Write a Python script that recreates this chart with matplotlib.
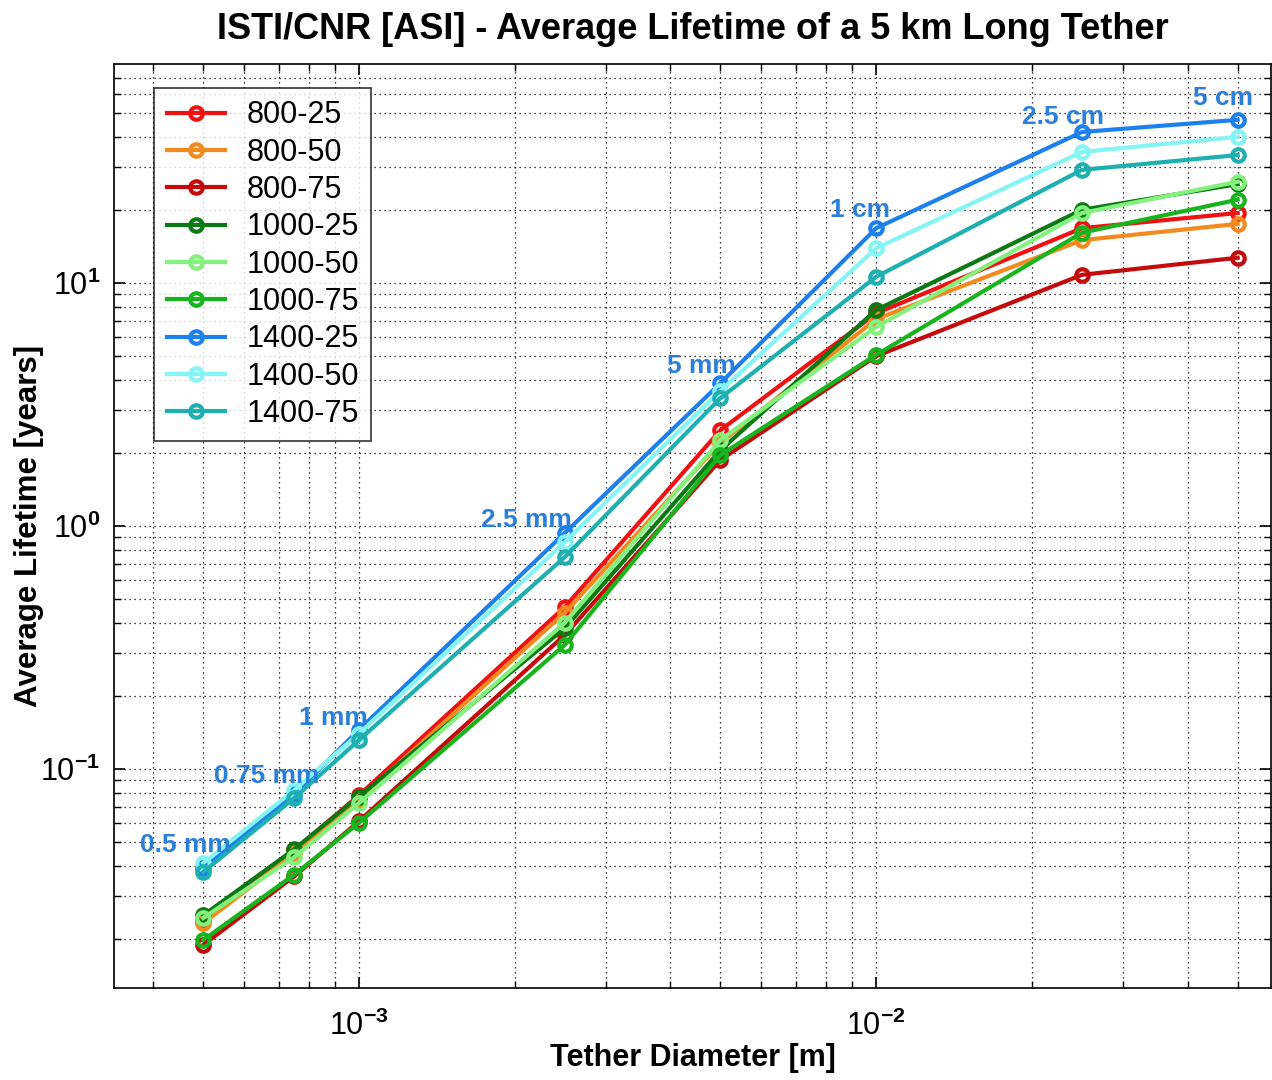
import matplotlib
matplotlib.use("Agg")
import matplotlib.pyplot as plt
from matplotlib.ticker import LogLocator, NullFormatter, FuncFormatter
import numpy as np

plt.rcParams['font.family'] = ['Liberation Sans', 'DejaVu Sans']
plt.rcParams['mathtext.fontset'] = 'custom'
plt.rcParams['mathtext.rm'] = 'Liberation Sans'
plt.rcParams['mathtext.it'] = 'Liberation Sans:italic'
plt.rcParams['mathtext.bf'] = 'Liberation Sans:bold'

diameters = [0.5e-3, 0.75e-3, 1e-3, 2.5e-3, 5e-3, 1e-2, 2.5e-2, 5e-2]
diameter_labels = ["0.5 mm", "0.75 mm", "1 mm", "2.5 mm", "5 mm", "1 cm", "2.5 cm", "5 cm"]

s800_25 = [0.0238, 0.0465, 0.078, 0.464, 2.48, 7.5, 16.8, 19.4]
s800_50 = [0.0232, 0.045, 0.075, 0.44, 2.2, 7.1, 15.0, 17.5]
s800_75 = [0.0189, 0.0362, 0.061, 0.356, 1.87, 5.0, 10.8, 12.7]
s1000_25 = [0.0250, 0.0468, 0.077, 0.38, 2.05, 7.74, 20.0, 25.5]
s1000_50 = [0.0244, 0.0434, 0.0724, 0.40, 2.26, 6.59, 19.4, 26.1]
s1000_75 = [0.0198, 0.0368, 0.060, 0.324, 1.96, 5.06, 16.1, 22.0]
s1400_25 = [0.039, 0.079, 0.145, 0.936, 3.87, 16.8, 41.8, 46.9]
s1400_50 = [0.041, 0.082, 0.140, 0.859, 3.6, 13.9, 34.6, 39.9]
s1400_75 = [0.0377, 0.076, 0.1316, 0.745, 3.36, 10.6, 29.2, 33.6]

series_names = ["800-25", "800-50", "800-75", "1000-25", "1000-50", "1000-75",
                "1400-25", "1400-50", "1400-75"]
series_values = [s800_25, s800_50, s800_75, s1000_25, s1000_50, s1000_75,
                 s1400_25, s1400_50, s1400_75]
colors = ["#f01212", "#f28a1e", "#c40a0a", "#0c7a14", "#84f07e", "#18b41e",
          "#1c80ee", "#84f4f4", "#1eb0b0"]

# label offsets (pixels) relative to the 1400-25 point
label_offsets = [(-18, 23), (-28, 18), (-26, 12), (-38, 13), (-19, 17),
                 (-16, 18), (-19, 15), (-15, 22)]

fig = plt.figure(figsize=(12.72, 10.8), dpi=100)
ax = fig.add_axes([114/1272, 1 - 988/1080, (1271 - 114)/1272, (988 - 64)/1080])
ax.set_xscale('log')
ax.set_yscale('log')

for name, vals, c in zip(series_names, series_values, colors):
    ax.plot(diameters, vals, '-o', color=c, lw=3.0, ms=9, mfc='none',
            mew=3.0, label=name)

for d, lab, v, off in zip(diameters, diameter_labels, s1400_25, label_offsets):
    ax.annotate(lab, xy=(d, v), xytext=off, textcoords='offset pixels',
                ha='center', va='center', color='#2a7fd8', fontsize=19,
                fontweight='bold')

ax.set_xlim(3.36e-4, 0.058)
ax.set_ylim(0.01256, 79.6)


def pow_fmt(v, pos):
    e = int(round(np.log10(v)))
    return r'$\mathregular{10}^{\mathbf{%d}}$' % e


ax.xaxis.set_major_locator(LogLocator(base=10, numticks=10))
ax.xaxis.set_minor_locator(LogLocator(base=10, subs=range(2, 10), numticks=20))
ax.yaxis.set_major_locator(LogLocator(base=10, numticks=10))
ax.yaxis.set_minor_locator(LogLocator(base=10, subs=range(2, 10), numticks=20))
ax.xaxis.set_major_formatter(FuncFormatter(pow_fmt))
ax.yaxis.set_major_formatter(FuncFormatter(pow_fmt))
ax.xaxis.set_minor_formatter(NullFormatter())
ax.yaxis.set_minor_formatter(NullFormatter())

ax.grid(True, which='both', color='black', linestyle=(0, (1, 3)), linewidth=0.9)
ax.tick_params(which='both', direction='in', top=True, right=True)
ax.tick_params(which='major', length=8, width=1.2, labelsize=22)
ax.tick_params(axis='x', which='major', pad=16)
ax.tick_params(axis='y', which='major', pad=10)
ax.tick_params(which='minor', length=5, width=1.0)
for sp in ax.spines.values():
    sp.set_linewidth(1.2)

ax.set_title("ISTI/CNR [ASI] - Average Lifetime of a 5 km Long Tether",
             fontsize=26, fontweight='bold', pad=18)
ax.set_xlabel("Tether Diameter [m]", fontsize=22, fontweight='bold', labelpad=1)
ax.set_ylabel("Average Lifetime [years]", fontsize=22.5, fontweight='bold', labelpad=-3)

leg = ax.legend(loc='upper left', bbox_to_anchor=(0.035, 0.974), fontsize=22,
                frameon=True, fancybox=False, edgecolor='black',
                handlelength=1.9, labelspacing=0.24, borderpad=0.4,
                handletextpad=0.7, borderaxespad=0)
leg.get_frame().set_linewidth(1.2)

fig.savefig("out.png", dpi=100)
